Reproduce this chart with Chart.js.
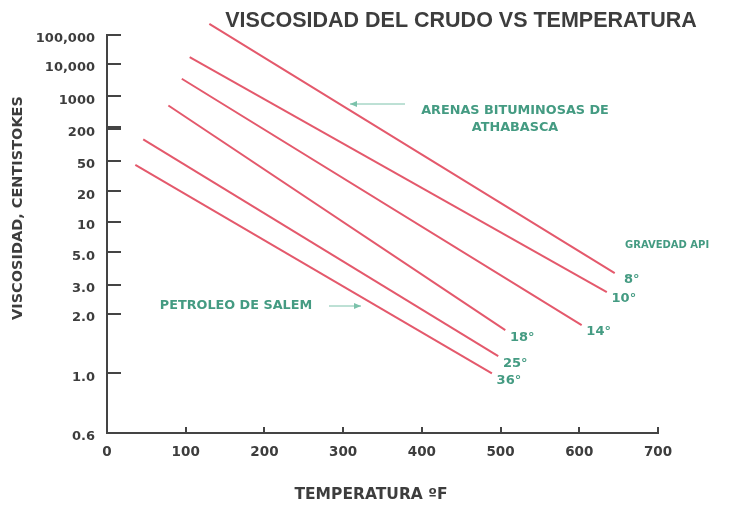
<!DOCTYPE html>
<html lang="es">
<head>
<meta charset="UTF-8">
<title>Viscosidad del crudo vs temperatura</title>
<script src="https://cdn.jsdelivr.net/npm/chart.js"></script>
<style>
  html, body { margin: 0; padding: 0; background: #fff; }
  #wrap { width: 735px; height: 505px; }
</style>
</head>
<body>
<div id="wrap"><canvas id="viscChart"></canvas></div>
<script>
  // y axis: viscosity ticks (cSt) and their slot on the chart's stretched scale
  const yTickValues = [0.6, 1, 2, 3, 5, 10, 20, 50, 200, 1000, 10000, 100000];
  const yTickLabels = ['0.6', '1.0', '2.0', '3.0', '5.0', '10', '20', '50', '200', '1000', '10,000', '100,000'];
  const yTickSlots  = [0, 1.95, 3.9, 4.85, 5.9, 6.9, 7.9, 8.9, 9.95, 11, 12.05, 13];
  const xTicks = [0, 100, 200, 300, 400, 500, 600, 700];

  // API gravity lines: temperature (ºF) and viscosity (cSt) at both ends
  const gravities = ['8°', '10°', '14°', '18°', '25°', '36°'];
  const tempStart = [130, 105, 95, 78, 46, 36];
  const tempEnd   = [645, 635, 603, 506, 497, 489];
  const viscStart = [240000, 17400, 3500, 630, 125, 44];
  const viscEnd   = [3.6, 2.7, 1.75, 1.65, 1.22, 1.0];

  const GREEN = '#449b82';
  const DARK = '#3d3d3d';

  // piecewise log interpolation between the printed ticks
  function toSlot(v) {
    const lv = Math.log10(v);
    let i = 0;
    while (i < yTickValues.length - 2 && v > yTickValues[i + 1]) i++;
    const a = Math.log10(yTickValues[i]), b = Math.log10(yTickValues[i + 1]);
    return yTickSlots[i] + (lv - a) / (b - a) * (yTickSlots[i + 1] - yTickSlots[i]);
  }

  const datasets = gravities.map((g, i) => ({
    label: g,
    data: [
      { x: tempStart[i], y: toSlot(viscStart[i]), v: viscStart[i] },
      { x: tempEnd[i], y: toSlot(viscEnd[i]), v: viscEnd[i] }
    ],
    borderColor: '#e4596c',
    borderWidth: 2,
    pointRadius: 0,
    clip: false
  }));

  function arrow(ctx, x1, x2, y) {
    ctx.beginPath();
    ctx.moveTo(x1, y);
    ctx.lineTo(x2, y);
    ctx.stroke();
    const d = x2 > x1 ? -1 : 1;
    ctx.beginPath();
    ctx.moveTo(x2, y);
    ctx.lineTo(x2 + d * 7, y - 3);
    ctx.lineTo(x2 + d * 7, y + 3);
    ctx.closePath();
    ctx.fill();
  }

  const extras = {
    id: 'extras',
    afterDraw(chart) {
      const { ctx, chartArea: a, scales: { x, y } } = chart;
      ctx.save();

      // inner ticks
      ctx.strokeStyle = '#444';
      yTickSlots.forEach((s, i) => {
        if (i === 0) return;
        const py = Math.round(y.getPixelForValue(s));
        ctx.lineWidth = yTickValues[i] === 200 ? 4 : 2;
        ctx.beginPath();
        ctx.moveTo(a.left, py);
        ctx.lineTo(a.left + 14, py);
        ctx.stroke();
      });
      ctx.lineWidth = 2;
      xTicks.forEach(t => {
        if (t === 0) return;
        const px = Math.round(x.getPixelForValue(t));
        ctx.beginPath();
        ctx.moveTo(px, a.bottom);
        ctx.lineTo(px, a.bottom - 6);
        ctx.stroke();
      });

      // titles
      ctx.fillStyle = DARK;
      ctx.textAlign = 'center';
      ctx.textBaseline = 'middle';
      ctx.font = 'bold 21.5px "Liberation Sans", Arial, sans-serif';
      ctx.fillText('VISCOSIDAD DEL CRUDO VS TEMPERATURA', 461, 21);
      ctx.font = 'bold 15.5px "DejaVu Sans", sans-serif';
      ctx.fillText('TEMPERATURA ºF', 371, 495);
      ctx.font = 'bold 14.5px "DejaVu Sans", sans-serif';
      ctx.save();
      ctx.translate(18, 208);
      ctx.rotate(-Math.PI / 2);
      ctx.fillText('VISCOSIDAD, CENTISTOKES', 0, 0);
      ctx.restore();

      // green annotations
      ctx.fillStyle = GREEN;
      ctx.font = 'bold 12.8px "DejaVu Sans", sans-serif';
      ctx.fillText('ARENAS BITUMINOSAS DE', 515, 111);
      ctx.fillText('ATHABASCA', 515, 128);
      ctx.fillText('PETROLEO DE SALEM', 236, 306);
      ctx.textAlign = 'left';
      ctx.font = 'bold 10px "DejaVu Sans", sans-serif';
      ctx.fillText('GRAVEDAD API', 625, 245);

      ctx.textAlign = 'center';
      ctx.font = 'bold 13px "DejaVu Sans", sans-serif';
      datasets.forEach(ds => {
        const end = ds.data[1];
        ctx.fillText(ds.label, x.getPixelForValue(end.x) + 17, y.getPixelForValue(end.y) + 7);
      });

      ctx.strokeStyle = '#7cc2ab';
      ctx.fillStyle = '#7cc2ab';
      ctx.lineWidth = 1;
      arrow(ctx, 405, 350, 104);
      arrow(ctx, 329, 361, 306);

      ctx.restore();
    }
  };

  new Chart(document.getElementById('viscChart'), {
    type: 'line',
    data: { datasets },
    options: {
      responsive: true,
      maintainAspectRatio: false,
      animation: false,
      layout: { padding: { top: 35, right: 77, left: 0, bottom: 0 } },
      plugins: {
        legend: { display: false },
        tooltip: {
          callbacks: { label: c => c.dataset.label + ': ' + c.raw.v + ' cSt' }
        }
      },
      scales: {
        x: {
          type: 'linear',
          min: 0,
          max: 700,
          afterBuildTicks: s => { s.ticks = xTicks.map(v => ({ value: v })); },
          afterFit: s => { s.height = 72; },
          grid: { drawOnChartArea: false, drawTicks: false },
          border: { display: true, color: '#444', width: 2 },
          ticks: {
            padding: 11,
            color: DARK,
            font: { family: 'DejaVu Sans', weight: 'bold', size: 13.5 }
          }
        },
        y: {
          type: 'linear',
          min: 0,
          max: 13,
          afterBuildTicks: s => { s.ticks = yTickSlots.map(v => ({ value: v })); },
          afterFit: s => { s.width = 107; },
          grid: { drawOnChartArea: false, drawTicks: false },
          border: { display: true, color: '#444', width: 2 },
          ticks: {
            padding: 12,
            labelOffset: 4,
            color: DARK,
            font: { family: 'DejaVu Sans', weight: 'bold', size: 13 },
            callback: (v, i) => yTickLabels[i]
          }
        }
      }
    },
    plugins: [extras]
  });
</script>
</body>
</html>
